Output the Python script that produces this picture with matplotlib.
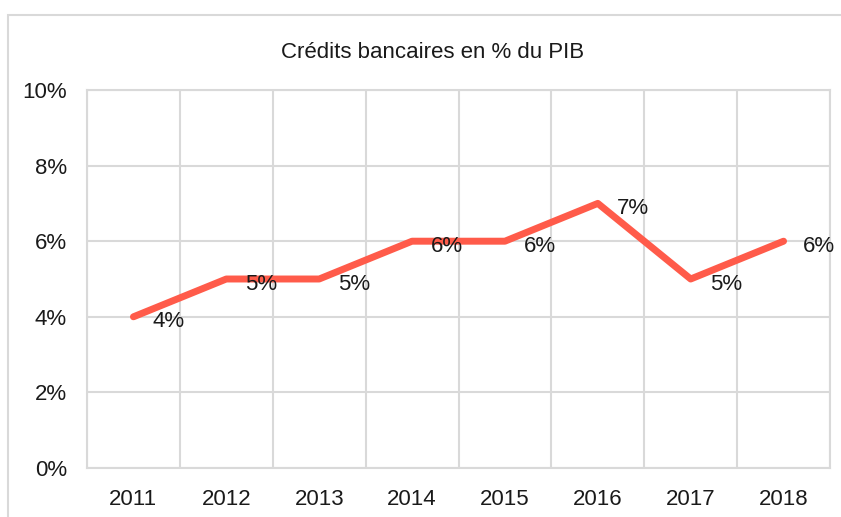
import matplotlib
matplotlib.use("Agg")
import matplotlib.pyplot as plt
from matplotlib.patches import Rectangle
import numpy as np

years = ["2011", "2012", "2013", "2014", "2015", "2016", "2017", "2018"]
values = [4, 5, 5, 6, 6, 7, 5, 6]
yticks = [0, 2, 4, 6, 8, 10]
title = "Crédits bancaires en % du PIB"

plt.rcParams['font.family'] = ['Liberation Sans', 'DejaVu Sans']

W, H = 841, 517
fig = plt.figure(figsize=(W / 100, H / 100), dpi=100)
fig.patch.set_facecolor('white')

# outer chart border (extends past right/bottom of image)
fig.patches.append(Rectangle((8 / W, -0.1), 1.2, (H - 15) / H + 0.1,
                             transform=fig.transFigure, fill=False,
                             edgecolor='#d9d9d9', linewidth=1.5, zorder=0))

ax = fig.add_axes([87 / W, (H - 468) / H, (830 - 87) / W, (468 - 90) / H])
x = np.arange(len(years))
ax.set_xlim(-0.5, len(years) - 0.5)
ax.set_ylim(0, 10)

grid_c = '#d9d9d9'
txt_c = '#1a1a1a'
fs = 16
ax.set_yticks(yticks)
ax.set_yticklabels([f"{v}%" for v in yticks])
ax.set_xticks(x)
ax.set_xticklabels(years)
ax.set_xticks(np.arange(-0.5, len(years), 1.0), minor=True)
ax.grid(True, axis='y', which='major', color=grid_c, linewidth=1.5)
ax.grid(True, axis='x', which='minor', color=grid_c, linewidth=1.5)
ax.tick_params(axis='both', which='both', length=0, labelsize=fs, colors=txt_c)
ax.tick_params(axis='y', pad=14.5)
ax.tick_params(axis='x', pad=15)
for s in ax.spines.values():
    s.set_color(grid_c)
    s.set_linewidth(1.5)
ax.set_axisbelow(True)

ax.plot(x, values, color='#FF5B4A', linewidth=5, solid_capstyle='round',
        solid_joinstyle='round', zorder=3)
for xi, v in zip(x, values):
    ax.annotate(f"{v}%", (xi, v), xytext=(19, -5), textcoords='offset pixels',
                ha='left', va='center', fontsize=fs, color=txt_c, zorder=4)

fig.text(433 / W, 1 - 52 / H, title, ha='center', va='center', fontsize=16,
         color=txt_c)

fig.savefig("out.png", dpi=100)
